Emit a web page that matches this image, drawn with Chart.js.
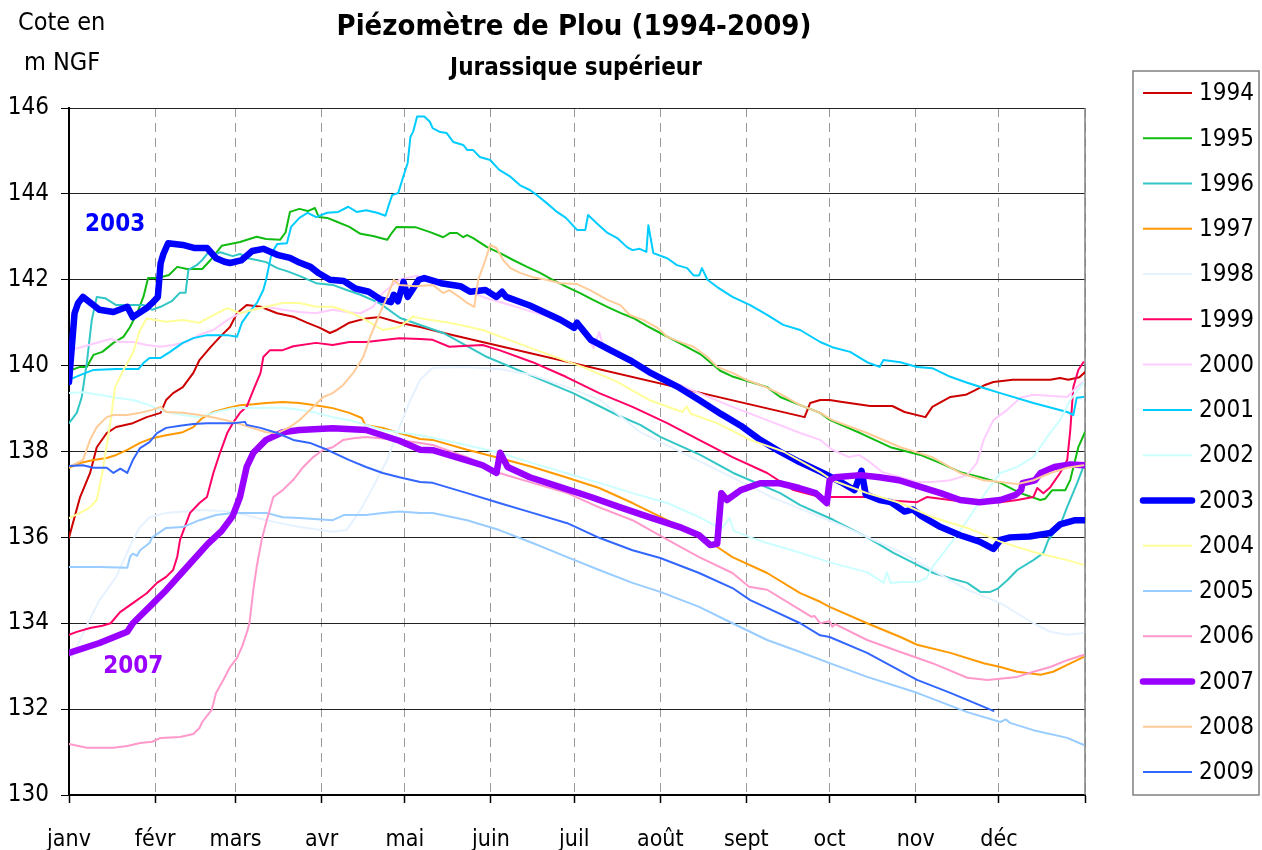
<!DOCTYPE html>
<html>
<head>
<meta charset="utf-8">
<script src="https://cdn.jsdelivr.net/npm/chart.js@4.4.1/dist/chart.umd.min.js"></script>
<style>
  html, body { margin: 0; padding: 0; background: #fff; }
  #wrap { width: 1262px; height: 850px; }
</style>
</head>
<body>
<div id="wrap"><canvas id="piezoChart" width="1262" height="850"></canvas></div>
<script>
// Day of year (leap year, 0..366) and water level in m NGF
const monthStarts = [0, 31, 60, 91, 121, 152, 182, 213, 244, 274, 305, 335, 366];
const monthLabels = ['janv', 'févr', 'mars', 'avr', 'mai', 'juin', 'juil', 'août', 'sept', 'oct', 'nov', 'déc', ''];
const years = ['1994', '1995', '1996', '1997', '1998', '1999', '2000', '2001', '2002', '2003', '2004', '2005', '2006', '2007', '2008', '2009'];

const y1994 = [[0,136.0],[4,136.94],[7.6,137.5],[10,138.1],[13.6,138.43],[17,138.57],[23,138.66],[28,138.8],[33,138.9],[35,139.2],[37.5,139.36],[41,139.5],[44.8,139.83],[47,140.13],[51,140.43],[54.4,140.67],[58,140.9],[60.5,141.22],[64,141.41],[69,141.37],[75,141.22],[80.8,141.14],[85.7,141.0],[90.4,140.88],[94,140.76],[96.5,140.83],[101,141.0],[107,141.1],[112,141.13],[119,141.0],[126.5,140.9],[135,140.76],[265,138.8],[267,139.13],[270.6,139.2],[274,139.2],[278,139.16],[288.6,139.06],[296.6,139.06],[301,138.92],[308.5,138.8],[311,139.04],[317.5,139.27],[323,139.32],[326.5,139.43],[330,139.55],[333,139.62],[340,139.67],[353.5,139.67],[357,139.71],[360,139.67],[364,139.73],[366,139.85]];
const y1995 = [[0,139.88],[4,139.97],[6.4,139.97],[8.8,140.25],[12,140.32],[16,140.53],[19.6,140.67],[22,140.9],[24.5,141.22],[26.8,141.6],[28.5,142.04],[31,142.04],[33,142.06],[36,142.11],[39,142.3],[42.5,142.25],[48,142.25],[51,142.46],[55,142.79],[61.6,142.88],[65,142.95],[67.6,143.0],[71,142.95],[76,142.93],[78,143.1],[79.6,143.58],[83,143.65],[86,143.6],[88.6,143.67],[90,143.46],[93,143.44],[96.5,143.35],[101,143.23],[105,143.07],[109.5,143.02],[114.6,142.93],[116.4,143.1],[118,143.23],[125,143.22],[130.1,143.11],[134.8,142.99],[137.3,143.09],[139.8,143.09],[142,142.99],[143.4,143.04],[145.6,142.97],[150.6,142.76],[155.3,142.62],[160,142.46],[165,142.3],[169.7,142.16],[174.4,141.99],[179.5,141.83],[184.1,141.69],[188.8,141.53],[193.9,141.37],[198.6,141.23],[203.2,141.11],[208.3,140.92],[213,140.76],[217.7,140.6],[222.7,140.43],[227.4,140.27],[231,140.08],[234.6,139.88],[239.3,139.74],[251.5,139.5],[256.2,139.27],[263.4,139.08],[270.6,138.9],[274.2,138.73],[285,138.43],[295.9,138.1],[306.7,137.92],[313.9,137.73],[321.1,137.52],[328.3,137.4],[335.5,137.27],[342.7,137.03],[349.9,136.87],[351.7,136.9],[354.2,137.1],[358.9,137.1],[360.7,137.34],[363.6,138.1],[366,138.45]];
const y1996 = [[0,138.66],[2.8,138.9],[4.6,139.27],[6.4,140.06],[8.2,141.06],[10,141.6],[13,141.57],[17,141.41],[22,141.41],[27,141.41],[30,141.3],[33,141.37],[37,141.5],[40,141.7],[42,141.7],[43,142.23],[46,142.34],[48,142.46],[50,142.62],[52,142.58],[54.5,142.64],[59,142.55],[61.6,142.6],[64.5,142.5],[67.6,142.46],[71,142.41],[75,142.27],[78.5,142.2],[83,142.09],[89,141.92],[95,141.88],[100,141.76],[105,141.65],[112,141.45],[119.3,141.11],[134.8,140.76],[150.6,140.2],[166.1,139.78],[181.6,139.36],[197.5,138.85],[205.8,138.62],[213,138.34],[227.4,137.92],[239.3,137.5],[256.2,137.03],[263.4,136.75],[275.3,136.41],[287.6,136.0],[297,135.64],[305.6,135.36],[311.4,135.17],[317.5,135.05],[323.6,134.94],[328.3,134.73],[331.9,134.73],[334.4,134.8],[338,135.0],[341.6,135.24],[347.4,135.47],[351,135.64],[352.8,135.94],[357.1,136.29],[359.6,136.71],[363.2,137.27],[365.4,137.64]];
const y1997 = [[0,137.62],[4,137.73],[8.8,137.8],[13.6,137.85],[17,137.92],[21,138.04],[25.6,138.2],[30,138.31],[35,138.38],[41,138.45],[44.8,138.57],[48,138.78],[52,138.92],[57,139.01],[61.6,139.08],[66.4,139.1],[71,139.13],[77,139.15],[83,139.13],[90.4,139.06],[95,139.01],[101,138.9],[105.5,138.78],[106.7,138.62],[113,138.55],[119,138.43],[126.5,138.29],[131,138.27],[143.4,138.04],[155,137.85],[167,137.64],[179,137.4],[191,137.15],[203,136.8],[215.5,136.4],[227,136.0],[233,135.8],[239,135.54],[251.5,135.17],[263.4,134.7],[270.6,134.5],[274,134.38],[287.5,134.0],[299.5,133.68],[305.5,133.5],[317.5,133.31],[329.5,133.07],[335.5,132.98],[341.6,132.87],[350,132.8],[354.5,132.87],[359.6,133.03],[365.4,133.21]];
const y1998 = [[1,133.2],[2.8,133.45],[6,133.9],[11,134.54],[17,135.08],[23,135.94],[25.6,136.24],[29,136.47],[35,136.57],[47,136.64],[59,136.6],[71,136.4],[83,136.24],[95,136.13],[100,136.17],[105,136.64],[109.5,137.17],[114.6,137.8],[119,138.57],[123,139.2],[126.5,139.67],[131,139.95],[143,139.97],[155,139.92],[167,139.78],[179.5,139.5],[191.4,139.2],[205.8,138.45],[229.9,137.69],[253.7,136.92],[277.8,136.29],[299.5,135.66],[323.6,134.78],[335.5,134.47],[347.4,134.0],[353.5,133.8],[359.6,133.73],[365.4,133.77]];
const y1999 = [[0,133.73],[2.8,133.8],[7.6,133.89],[12,133.94],[15,134.0],[18.4,134.26],[23,134.47],[28,134.7],[31.7,134.94],[35,135.08],[37.5,135.24],[39,135.55],[40,135.94],[43.6,136.57],[47,136.8],[49.7,136.94],[52,137.5],[54.4,137.97],[57,138.43],[59,138.66],[61.6,138.9],[64,139.04],[66.4,139.43],[69,139.83],[70,140.2],[72.4,140.36],[77,140.36],[80.8,140.45],[89,140.53],[95,140.48],[101,140.55],[107,140.55],[119,140.64],[126.5,140.62],[131,140.6],[137,140.44],[149,140.48],[155,140.36],[167,140.08],[179,139.74],[191,139.36],[203,139.04],[215.5,138.66],[227,138.27],[239,137.87],[251.5,137.5],[261,137.1],[270.6,136.94],[281.4,136.94],[287.5,136.94],[293,136.87],[305.5,136.82],[309,136.94],[317.5,136.87],[323.5,136.82],[335.5,136.82],[341.6,136.87],[347.4,136.94],[348.8,137.15],[351,137.03],[353.5,137.17],[357,137.5],[359.6,137.8],[360.7,138.5],[361.8,139.5],[363.6,139.9],[365.4,140.08]];
const y2000 = [[0,140.36],[5,140.44],[11,140.55],[15,140.62],[18.4,140.55],[23,140.55],[28,140.48],[33,140.44],[37.5,140.48],[42.5,140.55],[47,140.72],[52,140.83],[57,141.06],[61.6,141.22],[66.4,141.3],[71,141.37],[77,141.3],[83,141.25],[89,141.22],[95,141.3],[100,141.25],[105,141.22],[109.5,141.37],[113,141.69],[115.7,141.83],[119,142.0],[125,142.09],[131,142.0],[140,141.85],[149,141.6],[161,141.37],[173,141.13],[185,140.83],[189,140.41],[191,140.78],[192.5,140.45],[197.5,140.29],[203,140.06],[209,139.9],[215.5,139.67],[227,139.36],[239,139.04],[251.5,138.73],[263.4,138.43],[270.6,138.27],[275,138.04],[281,137.87],[284.5,137.92],[287.5,137.8],[293,137.52],[299.5,137.4],[305.5,137.29],[311,137.29],[317.5,137.33],[323.5,137.45],[327,137.73],[329.5,138.27],[333,138.73],[338,138.97],[342.7,139.25],[347.4,139.32],[359.6,139.27],[363,139.5],[365.4,139.62]];
const y2001 = [[0,139.67],[4,139.78],[8.8,139.9],[17,139.92],[25,139.92],[26.8,140.06],[29,140.18],[33,140.18],[36.4,140.32],[41,140.53],[44.8,140.64],[49.7,140.71],[57,140.71],[60.5,140.67],[62.3,141.0],[65,141.25],[67.7,141.46],[70,141.76],[71,142.0],[73,142.62],[75,142.83],[78.5,142.85],[80,143.23],[83,143.44],[86,143.56],[89,143.46],[93,143.56],[97,143.58],[100.6,143.7],[103.6,143.58],[107,143.62],[111,143.56],[114,143.49],[115,143.7],[116.4,143.97],[118.6,144.02],[120.4,144.4],[122,144.72],[123,145.33],[124,145.45],[125.4,145.8],[128,145.8],[130,145.68],[131,145.53],[133.7,145.44],[136,145.42],[138.4,145.21],[142,145.14],[143.5,145.02],[145.6,145.02],[148,144.86],[151.7,144.79],[155,144.56],[159,144.4],[162.5,144.2],[166,144.09],[168.6,143.97],[172,143.79],[175.8,143.58],[179,143.44],[183,143.16],[186,143.16],[187,143.51],[190,143.32],[194,143.09],[197.5,142.97],[201,142.76],[203,142.69],[205.6,142.72],[208,142.65],[208.7,143.27],[210.5,142.62],[215.5,142.5],[219,142.34],[222.7,142.27],[225,142.1],[227,142.1],[228,142.27],[230,142.0],[233.5,141.83],[239,141.6],[245.4,141.41],[251.5,141.18],[257.3,140.95],[263.4,140.83],[270.6,140.55],[275,140.43],[281.4,140.32],[287.5,140.08],[292,139.97],[293.4,140.13],[299.5,140.08],[305.5,139.97],[311,139.94],[317.5,139.74],[323.6,139.6],[329.5,139.48],[335.5,139.36],[347.4,139.13],[359.6,138.92],[361.8,138.85],[363,139.25],[365.4,139.27]];
const y2002 = [[0,139.36],[5,139.38],[11,139.32],[17,139.25],[23,139.2],[29,139.08],[35,138.92],[41,138.85],[47,138.8],[53,138.92],[59,139.01],[71,139.02],[77,139.02],[83,138.97],[89,138.9],[95,138.8],[101,138.73],[107,138.62],[113,138.5],[119,138.45],[126.5,138.38],[140,138.2],[155,137.97],[167,137.73],[179,137.5],[191,137.27],[203,137.03],[215.5,136.8],[227,136.47],[235,136.2],[238,136.45],[239.5,136.15],[245.4,136.0],[251.5,135.87],[263.4,135.64],[275,135.4],[287.5,135.19],[293.5,134.94],[294.6,135.19],[296,134.94],[299.5,134.96],[305.5,134.96],[309,135.05],[311,135.31],[315,135.64],[318.6,135.94],[323.6,136.4],[330.8,137.1],[335.5,137.5],[341.6,137.64],[347.4,137.87],[352.4,138.34],[357,138.73],[360.7,139.2],[364.3,139.5],[365.4,139.6]];
const y2003 = [[0,139.62],[2,141.22],[3.3,141.46],[5,141.6],[8.8,141.41],[11,141.3],[16,141.25],[21,141.37],[23,141.13],[28,141.34],[30,141.46],[32,141.6],[33,142.38],[34,142.6],[35.7,142.85],[41,142.81],[45,142.74],[49.7,142.74],[53,142.5],[56,142.42],[58,142.39],[62,142.45],[66,142.67],[70,142.72],[75,142.58],[79.6,142.51],[83,142.4],[87,142.3],[90,142.15],[94,142.0],[99,141.97],[103,141.8],[108,141.72],[112,141.55],[116,141.48],[117,141.65],[118.5,141.5],[120.5,141.95],[122,141.6],[126,142.0],[128,142.04],[134,141.92],[141,141.85],[144.5,141.72],[150,141.76],[154,141.6],[156,141.72],[157.5,141.6],[166,141.4],[171,141.25],[177,141.07],[182,140.88],[183,141.0],[188,140.6],[195,140.36],[202,140.13],[209,139.85],[220,139.48],[227,139.2],[235,138.87],[242,138.6],[249,138.27],[256,138.0],[263,137.76],[271,137.52],[278,137.29],[283,137.1],[285.5,137.55],[287,137.0],[292,136.87],[296,136.82],[301,136.6],[304,136.65],[307,136.5],[314,136.24],[321,136.05],[328,135.9],[333,135.73],[335.5,135.94],[339,136.0],[346,136.02],[353.5,136.1],[357,136.3],[362.5,136.4],[366,136.4]];
const y2004 = [[0,136.45],[4,136.57],[7.6,136.7],[10,136.87],[12,137.5],[15,138.73],[16.6,139.5],[19.6,139.9],[23,140.29],[25.6,140.83],[28,141.1],[35,141.02],[41,141.06],[47,141.0],[51,141.14],[57,141.34],[61.6,141.22],[66.4,141.3],[71,141.37],[77,141.46],[83,141.46],[89,141.37],[95,141.37],[102,141.22],[107,141.06],[113,140.83],[119,140.9],[124,141.14],[127,141.1],[137,141.0],[149,140.83],[161.4,140.53],[173,140.25],[185,139.97],[197.5,139.62],[209,139.2],[221,138.92],[222.5,139.05],[224,138.88],[233.5,138.66],[245.4,138.27],[257.3,138.0],[270.6,137.52],[275,137.33],[287.5,137.03],[299.5,136.8],[311,136.47],[323.6,136.22],[335.5,135.9],[347.4,135.66],[359.6,135.47],[365.4,135.36]];
const y2005 = [[0,135.31],[11,135.31],[21,135.29],[22,135.55],[23,135.62],[24.5,135.57],[25.6,135.7],[29,135.87],[30,136.0],[35,136.22],[41,136.24],[47,136.4],[53,136.52],[59,136.57],[71,136.57],[77,136.47],[83,136.45],[95,136.4],[99,136.52],[107,136.52],[113,136.57],[119,136.6],[126.5,136.57],[131,136.57],[143.4,136.4],[155,136.17],[167,135.87],[179.5,135.54],[191,135.24],[203,134.94],[213,134.73],[227,134.38],[239,134.0],[251.5,133.61],[263.4,133.33],[274,133.07],[287.5,132.75],[305.5,132.38],[323.6,131.93],[335.5,131.7],[337.5,131.76],[339,131.68],[347.4,131.51],[359.6,131.33],[365.4,131.17]];
const y2006 = [[0,131.19],[6.4,131.1],[16,131.1],[21,131.14],[25.6,131.21],[30,131.24],[33,131.33],[40,131.35],[44.8,131.42],[47,131.56],[48,131.7],[51.4,131.98],[53,132.38],[55.6,132.68],[58,132.98],[60.5,133.19],[62.3,133.45],[64,133.77],[65,134.0],[66.4,134.77],[67.6,135.31],[69.4,135.94],[71,136.34],[73.6,136.94],[77,137.1],[80.8,137.34],[84.4,137.64],[88,137.87],[91.6,138.04],[95,138.1],[98.8,138.27],[102.4,138.31],[107,138.34],[119,138.27],[126.5,138.2],[131,138.15],[143.4,137.87],[155,137.5],[167,137.27],[179.5,137.03],[191,136.7],[203,136.4],[215.5,135.95],[227,135.54],[239,135.17],[245,134.85],[251.5,134.78],[263.4,134.31],[267.5,134.15],[268.5,134.17],[270.6,134.0],[274,134.05],[275,133.92],[276,133.98],[287.5,133.61],[299.5,133.33],[311,133.07],[323.6,132.73],[330.8,132.68],[341.6,132.75],[347.4,132.87],[353.5,132.98],[359.6,133.14],[365.4,133.26]];
const y2007 = [[0,133.31],[11,133.54],[21,133.8],[23,134.0],[29,134.38],[35,134.77],[42.5,135.31],[50,135.85],[55,136.15],[59,136.5],[61.6,136.94],[64,137.64],[66.4,137.97],[71,138.27],[77,138.45],[83,138.5],[95,138.54],[107,138.5],[119,138.25],[126.5,138.04],[131,138.03],[143,137.8],[149,137.68],[154,137.5],[155.3,137.97],[158,137.64],[166,137.4],[177,137.17],[188,136.94],[198.6,136.7],[209,136.47],[220,136.24],[227,136.05],[231,135.82],[233.5,135.85],[235,137.03],[237,136.87],[242,137.1],[249,137.26],[256,137.26],[263,137.15],[269,137.03],[273,136.8],[274,137.33],[276,137.4],[285,137.45],[292,137.4],[299,137.33],[307,137.17],[314,137.03],[321,136.87],[328,136.82],[335.5,136.87],[341,136.99],[343,137.1],[343.5,137.26],[348,137.33],[350,137.5],[355,137.64],[360.7,137.7],[366,137.68]];
const y2008 = [[0,137.64],[5,137.8],[7.6,138.27],[10,138.57],[13.6,138.8],[16,138.85],[21,138.85],[25.6,138.9],[30,138.97],[33,139.04],[35,138.92],[41,138.9],[47,138.85],[53,138.78],[59,138.69],[65,138.57],[71,138.45],[75,138.43],[79.6,138.57],[83,138.73],[88,139.04],[91.6,139.27],[95,139.36],[98.8,139.55],[102.4,139.83],[106,140.2],[108.5,140.67],[112,141.22],[114.6,141.6],[117,142.0],[119,141.88],[125,141.85],[131,141.88],[134.8,141.69],[137,141.76],[141,141.58],[143.4,141.46],[146,141.37],[147.4,142.0],[150,142.46],[151.7,142.81],[154,142.74],[156.4,142.46],[159,142.27],[162.5,142.16],[167,142.06],[172,142.0],[177,141.92],[183,141.9],[187.7,141.76],[194,141.53],[198.6,141.41],[202,141.18],[207,141.06],[212,140.88],[215.5,140.67],[221,140.53],[225,140.44],[230,140.2],[233.5,139.97],[239,139.83],[244,139.67],[251,139.5],[256,139.35],[263.4,139.08],[270.6,138.9],[275,138.73],[287.5,138.43],[299.5,138.1],[311,137.87],[321,137.5],[329.5,137.33],[335.5,137.29],[341.6,137.24],[347.4,137.33],[353.5,137.5],[359.6,137.62],[365.4,137.68]];
const y2009 = [[0,137.66],[5,137.68],[8.8,137.62],[13.6,137.62],[16,137.5],[18.5,137.6],[21,137.5],[23,137.8],[25.6,138.08],[29,138.22],[31.7,138.43],[35,138.55],[40,138.6],[44.8,138.64],[49.7,138.66],[59,138.66],[63.4,138.69],[64,138.62],[69,138.55],[75,138.43],[80.8,138.27],[86.8,138.2],[93,138.04],[101,137.8],[107,137.64],[113,137.5],[119,137.4],[126.5,137.29],[131,137.27],[143.4,137.03],[155,136.8],[167,136.57],[179.5,136.33],[191,135.99],[203,135.7],[213,135.52],[227,135.17],[239,134.82],[245.4,134.54],[251.5,134.36],[263.4,134.0],[270.6,133.72],[274,133.68],[287.5,133.31],[305.5,132.68],[317.5,132.38],[333,131.96]];

const seriesData = [y1994, y1995, y1996, y1997, y1998, y1999, y2000, y2001, y2002, y2003, y2004, y2005, y2006, y2007, y2008, y2009];
const seriesColors = ['#CC0000', '#11BB11', '#33C6C6', '#FF9900', '#E6F2FF', '#FF0066', '#FFCCFF', '#00CCFF',
                      '#CCFFFF', '#0000FF', '#FFFF99', '#99CCFF', '#FF99CC', '#9900FF', '#FFCC99', '#3366FF'];
const thickYears = ['2003', '2007'];

// year labels written inside the plot, anchored on data coordinates
const yearNotes = [
  { text: '2003', day: 5.8, value: 143.27, color: '#0000FF' },
  { text: '2007', day: 12.3, value: 132.98, color: '#9900FF' }
];

const FONT = 'Tahoma, "DejaVu Sans Condensed", "DejaVu Sans", sans-serif';
Chart.defaults.font.family = FONT;
Chart.defaults.color = '#000';

const datasets = years.map((yr, i) => ({
  label: yr,
  data: seriesData[i].map(p => ({ x: p[0], y: p[1] })),
  borderColor: seriesColors[i],
  backgroundColor: seriesColors[i],
  borderWidth: thickYears.includes(yr) ? 6.5 : 2,
  borderJoinStyle: 'round',
  borderCapStyle: 'round',
  pointRadius: 0,
  tension: 0,
  fill: false,
  order: years.length - i   // later years on top, like the original
}));

const overlayPlugin = {
  id: 'overlay',
  beforeDatasetsDraw(chart) {
    const { ctx, chartArea } = chart;
    ctx.save();
    ctx.strokeStyle = '#808080';
    ctx.lineWidth = 1.5;
    ctx.beginPath();
    ctx.moveTo(chartArea.right, chartArea.top);
    ctx.lineTo(chartArea.right, chartArea.bottom);
    ctx.stroke();
    ctx.restore();
  },
  afterDraw(chart) {
    const { ctx, scales } = chart;
    ctx.save();
    ctx.textBaseline = 'middle';

    // axis unit
    ctx.fillStyle = '#000';
    ctx.font = '25px ' + FONT;
    ctx.textAlign = 'left';
    ctx.fillText('Cote en', 18, 23);
    ctx.fillText('m NGF', 24, 63);

    // titles
    ctx.textAlign = 'center';
    ctx.font = 'bold 29px ' + FONT;
    ctx.fillText('Piézomètre de Plou (1994-2009)', 574, 27);
    ctx.font = 'bold 24px ' + FONT;
    ctx.fillText('Jurassique supérieur', 576, 69);

    // year notes
    ctx.textAlign = 'left';
    ctx.font = 'bold 24px ' + FONT;
    yearNotes.forEach(n => {
      ctx.fillStyle = n.color;
      ctx.fillText(n.text, scales.x.getPixelForValue(n.day), scales.y.getPixelForValue(n.value));
    });

    // legend
    const box = { left: 1133, top: 71, right: 1259, bottom: 795 };
    ctx.strokeStyle = '#808080';
    ctx.lineWidth = 1.5;
    ctx.strokeRect(box.left, box.top, box.right - box.left, box.bottom - box.top);
    ctx.font = '24px ' + FONT;
    chart.data.datasets.forEach((ds, i) => {
      const y = 93 + i * 45.27;
      ctx.strokeStyle = ds.borderColor;
      ctx.lineWidth = ds.borderWidth;
      ctx.lineCap = ds.borderWidth > 3 ? 'round' : 'butt';
      ctx.beginPath();
      ctx.moveTo(1143, y);
      ctx.lineTo(1192, y);
      ctx.stroke();
      ctx.fillStyle = '#000';
      ctx.fillText(ds.label, 1199, y + 1);
    });
    ctx.restore();
  }
};

new Chart(document.getElementById('piezoChart'), {
  type: 'line',
  data: { datasets },
  options: {
    responsive: false,
    animation: false,
    layout: { padding: { top: 108, right: 177, bottom: 0, left: 0 } },
    plugins: {
      legend: { display: false },
      title: { display: false },
      tooltip: { enabled: false }
    },
    scales: {
      x: {
        type: 'linear',
        min: 0,
        max: 366,
        afterBuildTicks: scale => { scale.ticks = monthStarts.map(v => ({ value: v })); },
        afterFit: scale => { scale.height = 55; },
        ticks: {
          autoSkip: false,
          maxRotation: 0,
          padding: 23,
          font: { size: 23 },
          color: '#000',
          callback: v => monthLabels[monthStarts.indexOf(v)]
        },
        grid: { color: '#9a9a9a', lineWidth: 1, tickColor: '#000', tickLength: 8, tickWidth: 1.5 },
        border: { display: true, color: '#000', width: 2, dash: [9, 6] }
      },
      y: {
        min: 130,
        max: 146,
        afterFit: scale => { scale.width = 69; },
        ticks: { stepSize: 2, padding: 12, font: { size: 24 }, color: '#000' },
        grid: { color: '#222', lineWidth: 1, tickColor: '#000', tickLength: 8 },
        border: { display: true, color: '#000', width: 2 }
      }
    }
  },
  plugins: [overlayPlugin]
});
</script>
</body>
</html>
